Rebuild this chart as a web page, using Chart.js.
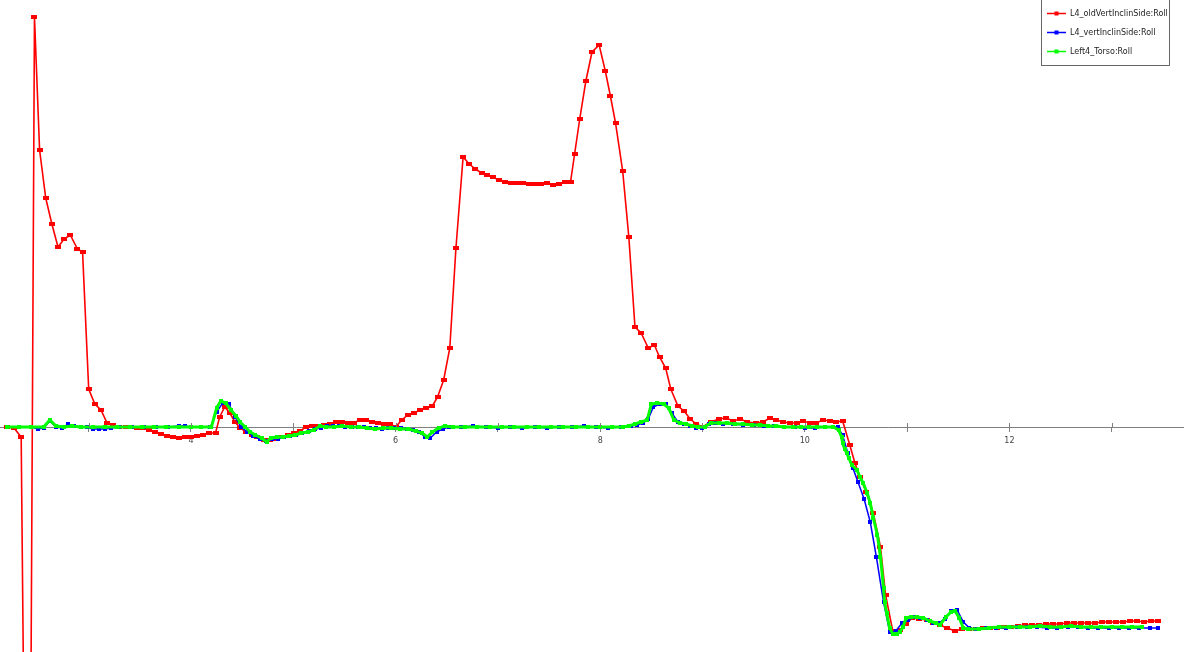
<!DOCTYPE html>
<html>
<head>
<meta charset="utf-8">
<title>Roll</title>
<script src="https://cdn.jsdelivr.net/npm/chart.js@4.4.0/dist/chart.umd.min.js"></script>
<style>
  html, body { margin: 0; padding: 0; background: #fff; }
  canvas { display: block; }
</style>
</head>
<body>
<canvas id="chart" width="1184" height="652"></canvas>
<script>
const seriesNames = ['L4_oldVertInclinSide:Roll', 'L4_vertInclinSide:Roll', 'Left4_Torso:Roll'];
const seriesColors = ['#ff0000', '#0000ff', '#00ff00'];
const labeledTicks = [4, 6, 8, 10, 12];

// time (s) / roll (deg)
const redX = [
  2.20, 2.27, 2.34, 2.41, 2.47, 2.52, 2.58, 2.64, 2.70, 2.76,
  2.82, 2.89, 2.94, 3.00, 3.06, 3.12, 3.18, 3.24, 3.30, 3.36,
  3.41, 3.47, 3.53, 3.59, 3.65, 3.71, 3.77, 3.82, 3.88, 3.94,
  4.00, 4.06, 4.12, 4.18, 4.24, 4.28, 4.33, 4.38, 4.43, 4.48,
  4.54, 4.60, 4.65, 4.71, 4.77, 4.83, 4.89, 4.95, 5.01, 5.07,
  5.12, 5.18, 5.24, 5.30, 5.36, 5.42, 5.48, 5.53, 5.59, 5.65,
  5.71, 5.77, 5.83, 5.89, 5.95, 6.00, 6.06, 6.12, 6.18, 6.24,
  6.30, 6.36, 6.41, 6.47, 6.53, 6.59, 6.66, 6.72, 6.78, 6.84,
  6.89, 6.95, 7.01, 7.07, 7.13, 7.19, 7.25, 7.30, 7.36, 7.42,
  7.48, 7.54, 7.60, 7.66, 7.71, 7.75, 7.80, 7.86, 7.92, 7.99,
  8.05, 8.10, 8.15, 8.22, 8.28, 8.34, 8.40, 8.47, 8.53, 8.58,
  8.64, 8.69, 8.76, 8.82, 8.88, 8.94, 9.00, 9.08, 9.16, 9.23,
  9.30, 9.37, 9.44, 9.52, 9.59, 9.66, 9.72, 9.79, 9.86, 9.92,
  9.98, 10.05, 10.11, 10.18, 10.25, 10.31, 10.37, 10.44, 10.49, 10.54,
  10.60, 10.67, 10.74, 10.79, 10.86, 10.93, 10.99, 11.05, 11.12, 11.19,
  11.25, 11.32, 11.39, 11.47, 11.54, 11.61, 11.67, 11.74, 11.81, 11.88,
  11.95, 12.02, 12.08, 12.15, 12.22, 12.29, 12.36, 12.43, 12.49, 12.56,
  12.63, 12.70, 12.77, 12.84, 12.91, 12.97, 13.04, 13.11, 13.18, 13.25,
  13.32, 13.38, 13.45
];
const redY = [
  0, -0.1, -1.0, -76, 41.0, 27.7, 22.9, 20.3, 18.0, 18.8,
  19.2, 17.8, 17.5, 3.8, 2.3, 1.7, 0.4, 0.2, 0, 0,
  0, -0.1, -0.1, -0.3, -0.5, -0.7, -0.9, -1.0, -1.1, -1.0,
  -1.0, -0.9, -0.8, -0.6, -0.6, 1.0, 2.0, 1.4, 0.5, -0.1,
  -0.5, -0.8, -1.0, -1.3, -1.3, -1.2, -1.0, -0.8, -0.6, -0.4,
  0, 0.1, 0.1, 0.2, 0.3, 0.5, 0.5, 0.4, 0.4, 0.7,
  0.7, 0.5, 0.4, 0.3, 0.3, 0, 0.7, 1.2, 1.4, 1.7,
  1.9, 2.1, 3.0, 4.7, 7.9, 17.9, 27.0, 26.3, 25.8, 25.4,
  25.2, 25.0, 24.7, 24.5, 24.4, 24.4, 24.4, 24.3, 24.3, 24.3,
  24.4, 24.2, 24.3, 24.5, 24.5, 27.3, 30.8, 34.6, 37.5, 38.2,
  35.6, 33.1, 30.4, 25.6, 19.0, 10.0, 9.4, 7.9, 8.2, 7.0,
  5.9, 3.8, 2.1, 1.6, 0.8, 0.3, 0, 0.5, 0.8, 0.9,
  0.6, 0.8, 0.5, 0.4, 0.5, 0.9, 0.7, 0.5, 0.4, 0.4,
  0.6, 0.4, 0.4, 0.7, 0.6, 0.5, 0.6, -1.8, -3.6, -5.0,
  -6.5, -8.6, -12.0, -16.8, -20.4, -20.3, -19.7, -19.1, -19.2, -19.3,
  -19.6, -19.8, -20.1, -20.4, -20.2, -20.2, -20.2, -20.1, -20.1, -20.1,
  -20.0, -20.0, -19.9, -19.8, -19.8, -19.8, -19.7, -19.7, -19.7, -19.6,
  -19.6, -19.6, -19.6, -19.6, -19.5, -19.5, -19.5, -19.5, -19.4, -19.4,
  -19.5, -19.4, -19.4
];

const blueX = [
  2.20, 2.32, 2.44, 2.50, 2.56, 2.62, 2.68, 2.74, 2.80, 2.86,
  2.92, 2.98, 3.04, 3.10, 3.16, 3.22, 3.30, 3.42, 3.54, 3.66,
  3.78, 3.88, 3.94, 4.00, 4.10, 4.19, 4.25, 4.31, 4.37, 4.43,
  4.49, 4.55, 4.61, 4.67, 4.73, 4.79, 4.85, 4.91, 4.97, 5.03,
  5.09, 5.15, 5.21, 5.27, 5.33, 5.39, 5.45, 5.51, 5.57, 5.63,
  5.69, 5.75, 5.81, 5.87, 5.93, 5.99, 6.05, 6.11, 6.17, 6.23,
  6.29, 6.34, 6.40, 6.46, 6.52, 6.64, 6.76, 6.88, 7.00, 7.12,
  7.24, 7.36, 7.48, 7.60, 7.72, 7.84, 7.96, 8.08, 8.20, 8.30,
  8.36, 8.42, 8.47, 8.52, 8.58, 8.64, 8.70, 8.76, 8.82, 8.88,
  8.94, 9.00, 9.06, 9.12, 9.20, 9.30, 9.40, 9.50, 9.60, 9.70,
  9.80, 9.90, 10.00, 10.10, 10.20, 10.32, 10.37, 10.42, 10.47, 10.52,
  10.58, 10.64, 10.70, 10.77, 10.83, 10.89, 10.95, 11.01, 11.07, 11.13,
  11.19, 11.25, 11.31, 11.37, 11.43, 11.49, 11.55, 11.61, 11.67, 11.77,
  11.87, 11.97, 12.07, 12.17, 12.27, 12.37, 12.47, 12.57, 12.67, 12.77,
  12.87, 12.97, 13.07, 13.17, 13.27, 13.37, 13.45
];
const blueY = [
  0, 0, 0, -0.2, -0.1, 0.6, 0, -0.1, 0.3, 0.1,
  0, 0, -0.2, -0.2, -0.2, -0.1, 0, 0, 0, 0,
  0, 0.1, 0.1, 0, 0, 0, 1.5, 2.4, 2.3, 1.0,
  0, -0.5, -0.9, -1.2, -1.4, -1.2, -1.2, -1.0, -0.9, -0.8,
  -0.6, -0.4, -0.2, -0.1, 0.1, 0.1, 0.1, 0, 0, 0,
  0, -0.1, -0.1, -0.2, -0.1, -0.1, -0.1, -0.2, -0.3, -0.5,
  -1.0, -1.1, -0.5, -0.2, 0, 0, 0.1, 0, -0.1, 0,
  -0.1, 0, -0.1, 0, 0, 0.1, 0, -0.1, 0, 0.1,
  0.2, 0.4, 0.8, 2.0, 2.3, 2.3, 1.4, 0.5, 0.3, 0.1,
  -0.1, -0.1, 0.3, 0.4, 0.3, 0.3, 0.2, 0.2, 0.1, 0.1,
  0, 0, -0.1, -0.1, 0, 0, -0.8, -2.6, -4.1, -5.5,
  -7.2, -9.5, -13.0, -17.5, -20.5, -20.4, -19.6, -19.3, -19.0, -19.1,
  -19.3, -19.6, -19.6, -19.2, -18.4, -18.3, -19.5, -20.1, -20.2, -20.1,
  -20.1, -20.1, -20.0, -20.0, -20.0, -20.1, -20.1, -20.0, -20.0, -20.1,
  -20.1, -20.1, -20.1, -20.1, -20.1, -20.1, -20.1
];

const greenX = [
  2.20, 2.32, 2.44, 2.56, 2.62, 2.68, 2.76, 2.84, 2.92, 3.04,
  3.16, 3.28, 3.40, 3.52, 3.64, 3.76, 3.88, 4.00, 4.10, 4.20,
  4.25, 4.29, 4.34, 4.39, 4.44, 4.48, 4.53, 4.58, 4.63, 4.69,
  4.74, 4.78, 4.84, 4.90, 4.96, 5.02, 5.08, 5.14, 5.20, 5.26,
  5.32, 5.40, 5.48, 5.56, 5.64, 5.72, 5.80, 5.88, 5.96, 6.04,
  6.12, 6.20, 6.26, 6.31, 6.36, 6.42, 6.48, 6.56, 6.68, 6.80,
  6.92, 7.04, 7.16, 7.28, 7.40, 7.52, 7.64, 7.76, 7.88, 8.00,
  8.12, 8.22, 8.28, 8.34, 8.40, 8.46, 8.50, 8.56, 8.62, 8.67,
  8.72, 8.78, 8.84, 8.90, 8.96, 9.02, 9.08, 9.16, 9.24, 9.32,
  9.40, 9.48, 9.56, 9.64, 9.72, 9.80, 9.88, 9.96, 10.04, 10.12,
  10.20, 10.28, 10.33, 10.36, 10.37, 10.39, 10.41, 10.43, 10.46, 10.51,
  10.54, 10.57, 10.61, 10.64, 10.67, 10.71, 10.74, 10.77, 10.78, 10.80,
  10.83, 10.86, 10.90, 10.93, 10.96, 10.99, 11.04, 11.10, 11.16, 11.22,
  11.28, 11.32, 11.38, 11.43, 11.47, 11.51, 11.55, 11.60, 11.70, 11.80,
  11.90, 12.00, 12.10, 12.20, 12.30, 12.40, 12.50, 12.60, 12.70, 12.80,
  12.90, 13.00, 13.10, 13.20, 13.30
];
const greenY = [
  0, 0, 0, 0, 0.7, 0.1, 0, 0.1, 0, 0,
  0, 0, 0, 0, 0, 0, 0, 0, 0, 0,
  1.9, 2.6, 2.4, 1.7, 1.1, 0.5, 0, -0.5, -0.8, -1.1,
  -1.5, -1.1, -1.0, -1.0, -0.9, -0.8, -0.6, -0.5, -0.3, 0.1,
  0, 0, 0.1, 0, 0, -0.1, -0.2, -0.1, -0.1, -0.2,
  -0.2, -0.4, -0.6, -1.0, -0.5, -0.1, 0.1, 0, 0, 0,
  0, 0, 0, 0, 0, 0, 0, 0, 0, 0,
  0, 0, 0.1, 0.3, 0.5, 0.7, 2.3, 2.4, 2.3, 1.9,
  0.7, 0.4, 0.3, 0.1, 0, 0, 0.4, 0.4, 0.4, 0.3,
  0.3, 0.2, 0.2, 0.1, 0.1, 0, 0, 0, 0, 0,
  0, 0, -0.3, -1.0, -1.6, -2.2, -2.6, -3.1, -3.8, -4.3,
  -5.0, -5.6, -6.6, -7.6, -9.1, -10.8, -13.0, -16.1, -17.5, -18.6,
  -20.1, -20.7, -20.7, -20.5, -20.0, -19.1, -19.0, -19.0, -19.1, -19.4,
  -19.6, -19.8, -19.0, -18.5, -18.4, -19.1, -20.1, -20.2, -20.2, -20.1,
  -20.0, -20.0, -20.0, -20.0, -19.9, -20.0, -20.0, -19.9, -20.0, -20.0,
  -20.0, -20.0, -20.0, -20.0, -20.0
];

function toPoints(xs, ys) {
  const pts = [];
  for (let i = 0; i < xs.length; i++) {
    pts.push({ x: xs[i], y: ys[i] });
  }
  return pts;
}

// small filled rectangle used as point marker
function markerImage(color, w, h) {
  const c = document.createElement('canvas');
  c.width = w;
  c.height = h;
  const g = c.getContext('2d');
  g.fillStyle = color;
  g.fillRect(0, 0, w, h);
  return c;
}

const markers = [
  markerImage(seriesColors[0], 6, 4),
  markerImage(seriesColors[1], 4, 4),
  markerImage(seriesColors[2], 4, 4)
];

// legend box in the top right corner + upper half of the axis ticks
const legendBox = {
  id: 'legendBox',
  afterDraw(chart) {
    const ctx = chart.ctx;
    const xs = chart.scales.x;
    const y0 = Math.round(chart.scales.y.getPixelForValue(0));

    ctx.save();
    ctx.strokeStyle = '#7f7f7f';
    ctx.lineWidth = 1;
    xs.ticks.forEach(function(t) {
      const px = Math.round(xs.getPixelForValue(t.value)) + 0.5;
      ctx.beginPath();
      ctx.moveTo(px, y0 - 4);
      ctx.lineTo(px, y0);
      ctx.stroke();
    });

    const bx = 1041.5, by = -0.5, bw = 128, bh = 66;
    ctx.fillStyle = '#ffffff';
    ctx.fillRect(bx, by, bw, bh);
    ctx.strokeStyle = '#666666';
    ctx.strokeRect(bx, by, bw, bh);

    ctx.font = '8px "DejaVu Sans"';
    ctx.textBaseline = 'middle';
    chart.data.datasets.forEach(function(ds, i) {
      const ry = 13.5 + i * 19;
      ctx.strokeStyle = ds.borderColor;
      ctx.lineWidth = 1.5;
      ctx.beginPath();
      ctx.moveTo(1047, ry);
      ctx.lineTo(1066, ry);
      ctx.stroke();
      ctx.fillStyle = ds.borderColor;
      ctx.fillRect(1054.5, ry - 2, 4, 4);
      ctx.fillStyle = '#222222';
      ctx.fillText(ds.label, 1070, ry);
    });
    ctx.restore();
  }
};

Chart.defaults.font.family = 'DejaVu Sans';

const ctx = document.getElementById('chart').getContext('2d');
new Chart(ctx, {
  type: 'line',
  data: {
    datasets: [
      {
        label: seriesNames[0],
        data: toPoints(redX, redY),
        borderColor: seriesColors[0],
        backgroundColor: seriesColors[0],
        borderWidth: 1.6,
        pointStyle: markers[0],
        pointRadius: 3,
        tension: 0,
        order: 3
      },
      {
        label: seriesNames[1],
        data: toPoints(blueX, blueY),
        borderColor: seriesColors[1],
        backgroundColor: seriesColors[1],
        borderWidth: 1.5,
        pointStyle: markers[1],
        pointRadius: 2,
        tension: 0,
        order: 2
      },
      {
        label: seriesNames[2],
        data: toPoints(greenX, greenY),
        borderColor: seriesColors[2],
        backgroundColor: seriesColors[2],
        borderWidth: 3,
        pointStyle: markers[2],
        pointRadius: 2,
        tension: 0,
        order: 1
      }
    ]
  },
  options: {
    responsive: false,
    animation: false,
    devicePixelRatio: 1,
    layout: { padding: 0, autoPadding: false },
    plugins: {
      legend: { display: false },
      tooltip: { enabled: false }
    },
    scales: {
      x: {
        type: 'linear',
        min: 2.133,
        max: 13.707,
        position: { y: 0 },
        afterFit: function(scale) {
          scale.height = 0;
          scale.paddingLeft = 0;
          scale.paddingRight = 0;
        },
        border: { display: true, color: '#7f7f7f', width: 1 },
        grid: { display: true, drawOnChartArea: false, drawTicks: true, tickLength: 4, color: '#7f7f7f' },
        ticks: {
          stepSize: 1,
          includeBounds: false,
          autoSkip: false,
          maxRotation: 0,
          padding: 5,
          color: '#444444',
          font: { size: 8 },
          callback: function(v) { return labeledTicks.includes(v) ? String(v) : ''; }
        }
      },
      y: {
        type: 'linear',
        display: false,
        min: -22.5,
        max: 42.7
      }
    }
  },
  plugins: [legendBox]
});
</script>
</body>
</html>
